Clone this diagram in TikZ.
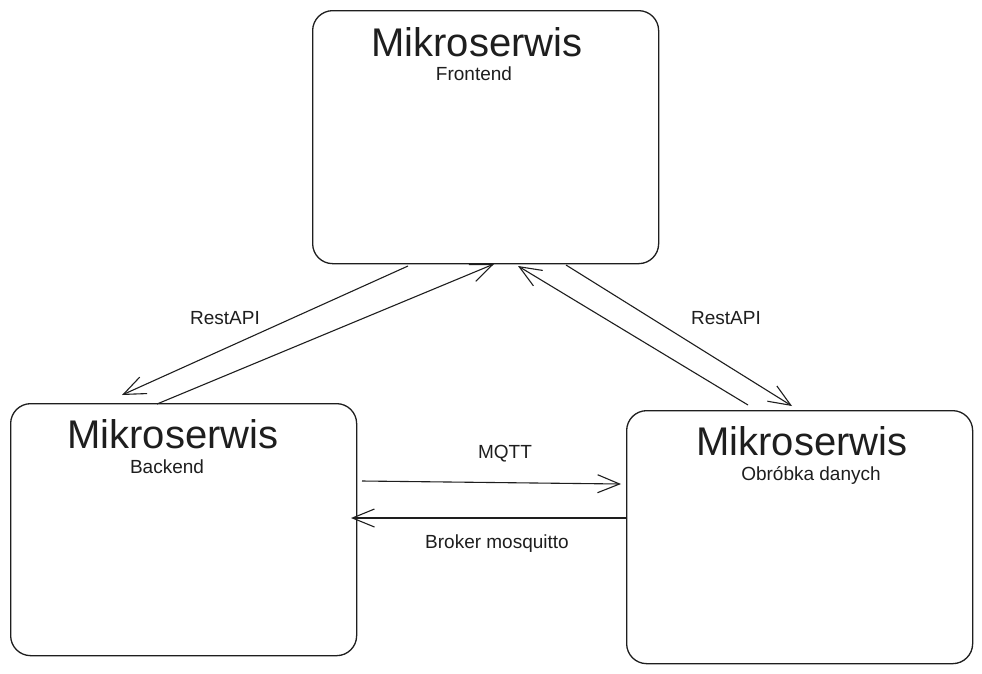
\documentclass[tikz,border=0pt]{standalone}
\usepackage{fontspec}
\setmainfont{Liberation Sans}
\usetikzlibrary{arrows.meta,calc}
\definecolor{ink}{HTML}{1E1E1E}
\tikzset{
  box/.style={draw=ink, line width=1.3pt, rounded corners=20pt, anchor=north west, inner sep=0pt},
  title/.style={font=\fontsize{40}{44}\selectfont, text=ink, inner sep=0pt},
  sub/.style={font=\fontsize{19}{22}\selectfont, text=ink, inner sep=0pt},
  lbl/.style={font=\fontsize{19}{22}\selectfont, text=ink, inner sep=0pt},
  conn/.style={draw=ink, line width=1.1pt, -{Straight Barb[length=22pt,width=18pt,line width=1.1pt]}},
}
\begin{document}
\begin{tikzpicture}[x=1pt,y=-1pt]
\useasboundingbox (0,0) rectangle (982,673);
\fill[white] (0,0) rectangle (982,673);
% boxes
\node[box, minimum width=346pt, minimum height=253pt] (fe) at (312,10) {};
\node[box, minimum width=346pt, minimum height=252pt] (be) at (10,403) {};
\node[box, minimum width=346pt, minimum height=253pt] (ob) at (626,410) {};
% titles
\node[title] (fet) at (477,42) {Mikroserwis};
\node[sub] (fes) at (474,74) {Frontend};
\node[title] (bet) at (173,434) {Mikroserwis};
\node[sub] (bes) at (167,467) {Backend};
\node[title] (obt) at (802,441) {Mikroserwis};
\node[sub] (obs) at (811,475) {Obróbka danych};
% connector end points
\coordinate (a1) at (408,266);
\coordinate (a2) at (122,395);
\coordinate (b1) at (157,404);
\coordinate (b2) at (494,264);
\coordinate (c1) at (748,405);
\coordinate (c2) at (518,266);
\coordinate (d1) at (566,265);
\coordinate (d2) at (792,406);
\coordinate (m1) at (362,481);
\coordinate (m2) at (621,484);
\coordinate (k1) at (627,518);
\coordinate (k2) at (351,518);
\draw[conn] (a1) -- (a2);
\draw[conn] (b1) -- (b2);
\draw[conn] (c1) -- (c2);
\draw[conn] (d1) -- (d2);
\draw[conn] (m1) -- (m2);
\draw[conn] (k1) -- (k2);
% labels
\node[lbl] (l1) at (225,318) {RestAPI};
\node[lbl] (l2) at (726,318) {RestAPI};
\node[lbl] (l3) at (505,454) {MQTT};
\node[lbl] (l4) at (497,544) {Broker mosquitto};
\end{tikzpicture}
\end{document}
